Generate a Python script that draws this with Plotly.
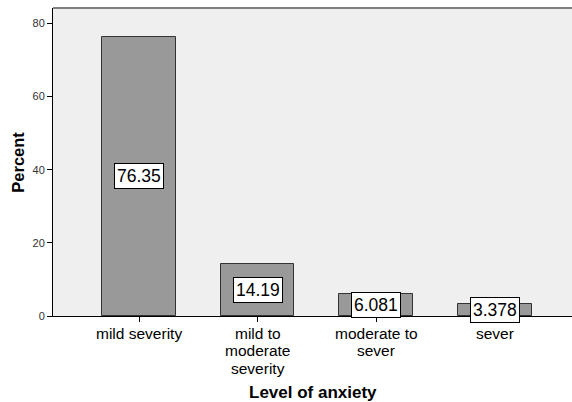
import plotly.graph_objects as go

categories = ["mild severity", "mild to<br>moderate<br>severity", "moderate to<br>sever", "sever"]
percent = [76.35, 14.19, 6.081, 3.378]
labels = ["76.35", "14.19", "6.081", "3.378"]
y_ticks = [0, 20, 40, 60, 80]

FONT = "Liberation Sans, Arial"
fig = go.Figure()
fig.add_trace(go.Bar(
    x=list(range(len(categories))), y=percent, width=0.62,
    marker=dict(color="#999999", line=dict(color="#333333", width=1)),
    hoverinfo="skip",
))
for i, (v, t) in enumerate(zip(percent, labels)):
    fig.add_annotation(x=i, y=v / 2, text=t, showarrow=False,
                       font=dict(family=FONT, size=17.5, color="black"),
                       bgcolor="white", bordercolor="black", borderwidth=1, borderpad=2)

# category labels, one annotation per line for tight line spacing
for i, cat in enumerate(categories):
    for j, line in enumerate(cat.split("<br>")):
        fig.add_annotation(x=i, xref="x", y=0, yref="paper", text=line, showarrow=False,
                           yanchor="middle", yshift=-17 - 17.5 * j, borderpad=0,
                           font=dict(family=FONT, size=15.5, color="black"))

fig.add_annotation(x=0.5, xref="paper", y=0, yref="paper", yshift=-76, yanchor="middle",
                   text="<b>Level of anxiety</b>", showarrow=False,
                   font=dict(family=FONT, size=17, color="black"))
fig.add_annotation(x=-0.068, xref="paper", y=0.5, yref="paper", textangle=-90,
                   xanchor="center", yanchor="middle",
                   text="<b>Percent</b>", showarrow=False,
                   font=dict(family=FONT, size=16.5, color="black"))

fig.add_shape(type="line", xref="paper", yref="paper", x0=0, x1=1, y0=1, y1=1,
              line=dict(color="#7f7f7f", width=2))

fig.update_layout(
    width=572, height=402,
    margin=dict(l=53, r=0, t=8, b=86),
    paper_bgcolor="white", plot_bgcolor="#efefef",
    showlegend=False, bargap=0,
    font=dict(family=FONT, color="black"),
    xaxis=dict(
        range=[-0.725, 3.65], tickmode="array", tickvals=list(range(len(categories))),
        showticklabels=False, ticks="outside", ticklen=5, tickcolor="black",
        showline=True, linecolor="black", linewidth=1, showgrid=False, zeroline=False,
        automargin=False,
    ),
    yaxis=dict(
        range=[0, 84.2], tickmode="array", tickvals=y_ticks, ticks="outside",
        ticklen=5, tickcolor="black", tickfont=dict(size=11, color="#333333"),
        showline=True, linecolor="black", linewidth=1, showgrid=False, zeroline=False,
        automargin=False,
    ),
)
fig.write_html("out.html", config={"displayModeBar": False},
               post_script="document.body.style.margin='0';")
